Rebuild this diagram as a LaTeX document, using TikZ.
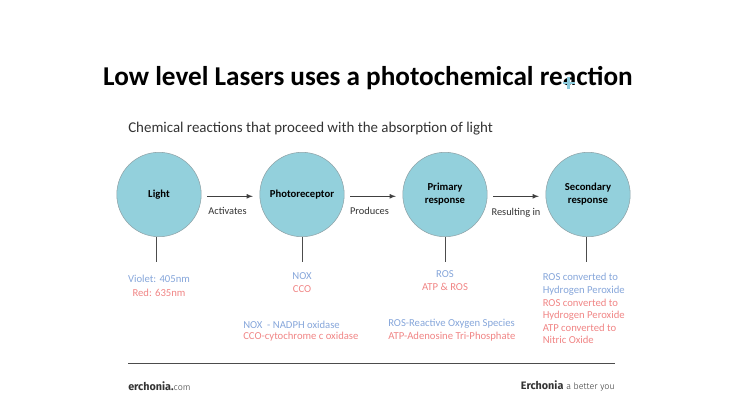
\documentclass[tikz,border=0pt]{standalone}
\usepackage{fontspec}
\setmainfont{Carlito}
\newfontfamily\footfont{Fira Sans}
\newfontfamily\footlight{Fira Sans Light}
\usetikzlibrary{positioning}
\definecolor{discfill}{HTML}{93D0DC}
\definecolor{discedge}{HTML}{8FA3A8}
\definecolor{bluetxt}{HTML}{86A6DA}
\definecolor{redtxt}{HTML}{F08585}
\definecolor{cursorblue}{HTML}{8CCBDD}
\newcommand\footbold[1]{{\footfont\bfseries\fontsize{8.1}{9}\selectfont #1}}
\newcommand\footthin[1]{{\footlight\fontsize{6.7}{9}\selectfont #1}}
\tikzset{>=latex}
\tikzset{
  disc/.style={circle,draw=discedge,fill=discfill,minimum size=63.3pt,inner sep=0,align=center,font=\fontsize{8}{9.8}\selectfont\bfseries},
  verb/.style={inner sep=0,text=black!80,font=\fontsize{7.8}{9}\selectfont},
  bluelab/.style={inner sep=0,text=bluetxt,font=\fontsize{8}{9.4}\selectfont},
  redlab/.style={inner sep=0,text=redtxt,font=\fontsize{8}{9.4}\selectfont},
  stem/.style={black!70,line width=0.6pt},
  flow/.style={->,black!75,line width=0.6pt,shorten >=5pt,shorten <=4.5pt},
  footer/.style={inner sep=0,text=black!80}
}

\begin{document}
\begin{tikzpicture}[x=0.75pt,y=-0.75pt]
    \useasboundingbox (0,0) rectangle (746,419);
    \node[font=\fontsize{20.4}{24}\selectfont\bfseries] (title) at (368,78) {Low level Lasers uses a photochemical reaction};
    \draw[cursorblue,line width=1.8pt] (568.5,77) -- (568.5,89);
    \draw[cursorblue,line width=1.8pt] (562.5,83) -- (574.5,83);
    \node[anchor=west,inner sep=0,text=black!80,font=\fontsize{11.2}{13}\selectfont] (subtitle) at (128,129) {Chemical reactions that proceed with the absorption of light};
    \foreach\name/\x/\txt in {light/159/Light,photo/302/Photoreceptor,primary/445/Primary\\response,second/588/Secondary\\response}{
     \node[disc] (\name) at (\x,194.5) {\txt};}
    \draw[flow] ([yshift=-1.35pt]light.east) -- ([yshift=-1.35pt]photo.west);
    \draw[flow] ([yshift=-1.35pt]photo.east) -- ([yshift=-1.35pt]primary.west);
    \draw[flow] ([yshift=-1.35pt]primary.east) -- ([yshift=-1.35pt]second.west);
    \node[verb] (activates) at (227.5,211) {Activates};
    \node[verb] (produces) at (369.5,211) {Produces};
    \node[verb] (resulting) at (516,213) {Resulting in};
    \coordinate (lightend) at (156,262);
    \coordinate (photoend) at (302,262);
    \coordinate (primaryend) at (445,262);
    \coordinate (secondend) at (586,262);
    \draw[stem] (light.south -| lightend) -- (lightend);
    \draw[stem] (photo.south) -- (photoend);
    \draw[stem] (primary.south) -- (primaryend);
    \draw[stem] (second.south -| secondend) -- (secondend);
    \node[bluelab] (violet) at (159,279) {Violet: 405nm};
    \node[redlab] (red) at (159,292.5) {Red: 635nm};
    \node[bluelab] (nox) at (302,276.5) {NOX};
    \node[redlab] (cco) at (302,289.5) {CCO};
    \node[bluelab] (ros) at (445,274.5) {ROS};
    \node[redlab] (atp) at (445,286.5) {ATP \& ROS};
    \node[bluelab,anchor=north west,align=left] (rosblue) at (542.5,273) {ROS converted to\\Hydrogen Peroxide};
    \node[redlab,anchor=north west,align=left] (rosred) at (542.5,298.5) {ROS converted to\\Hydrogen Peroxide\\ATP converted to\\Nitric Oxide};
    \node[bluelab,anchor=west] (noxlong) at (243,324.5) {NOX\ \ - NADPH oxidase};
    \node[redlab,anchor=west] (ccolong) at (243,337) {CCO-cytochrome c oxidase};
    \node[bluelab,anchor=west] (roslong) at (388,324) {ROS-Reactive Oxygen Species};
    \node[redlab,anchor=west] (atplong) at (388,337) {ATP-Adenosine Tri-Phosphate};
    \coordinate (ruleleft) at (128,363.5);
    \coordinate (ruleright) at (615,363.5);
    \draw[black!70,line width=0.6pt] (ruleleft) -- (ruleright);
    \node[footer,anchor=west] (site) at (128,386.5) {\footbold{erchonia.}\footthin{com}};
    \node[footer,anchor=east] (brand) at (615,386.5) {\footbold{Erchonia} \footthin{a better you}};
\end{tikzpicture}
\end{document}
